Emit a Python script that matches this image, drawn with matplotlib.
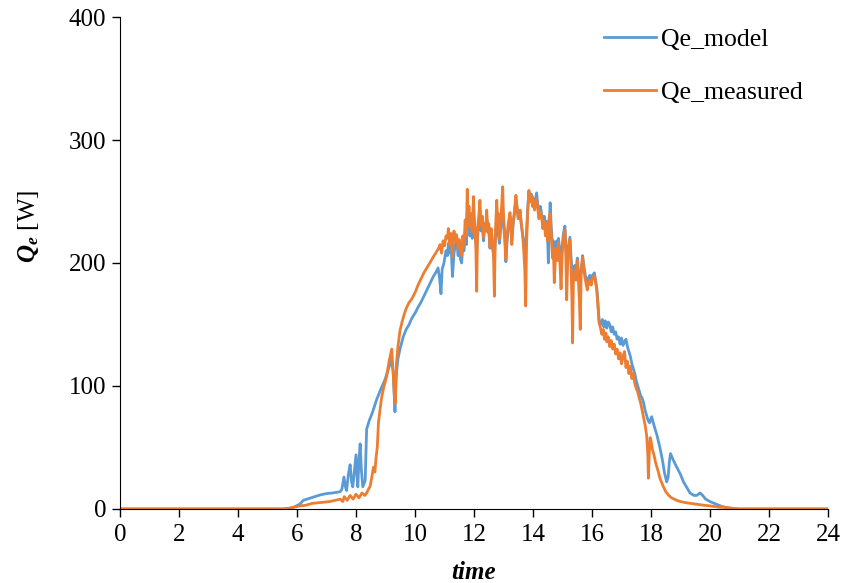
import matplotlib.pyplot as plt

plt.rcParams['font.family'] = ['Liberation Serif', 'DejaVu Serif']
plt.rcParams['mathtext.fontset'] = 'custom'
plt.rcParams['mathtext.rm'] = 'Liberation Serif'
plt.rcParams['mathtext.it'] = 'Liberation Serif:italic'
plt.rcParams['mathtext.bf'] = 'Liberation Serif:bold'
plt.rcParams['mathtext.bfit'] = 'Liberation Serif:italic:bold'

# Qe_model (blue) - hora del dia / potencia [W]
t_model = [0, 5.7, 5.9, 6.1, 6.21, 6.4, 6.6, 6.78, 7.0, 7.2, 7.46, 7.52, 7.59, 7.64, 7.68,
           7.74, 7.8, 7.85, 7.89, 7.95, 8.0, 8.03, 8.06, 8.1, 8.14, 8.18, 8.23, 8.31, 8.36,
           8.45, 8.55, 8.7, 8.85, 8.98, 9.1, 9.2, 9.26, 9.3, 9.32, 9.36, 9.42, 9.5, 9.6,
           9.7, 9.8, 9.87, 9.94, 10.02, 10.1, 10.2, 10.3, 10.4, 10.5, 10.62, 10.7, 10.78,
           10.83, 10.88, 10.92, 10.98, 11.05, 11.1, 11.13, 11.18, 11.22, 11.27, 11.32, 11.36,
           11.41, 11.46, 11.5, 11.54, 11.58, 11.62, 11.66, 11.7, 11.74, 11.77, 11.8, 11.83,
           11.86, 11.9, 11.94, 11.98, 12.02, 12.06, 12.09, 12.12, 12.16, 12.2, 12.24, 12.28,
           12.32, 12.36, 12.43, 12.5, 12.54, 12.58, 12.62, 12.66, 12.69, 12.72, 12.77, 12.8,
           12.86, 12.9, 12.94, 12.97, 13.0, 13.04, 13.08, 13.12, 13.16, 13.22, 13.28, 13.32,
           13.36, 13.42, 13.46, 13.5, 13.56, 13.6, 13.64, 13.68, 13.72, 13.75, 13.78, 13.82,
           13.86, 13.9, 13.94, 14.01, 14.05, 14.12, 14.16, 14.2, 14.25, 14.29, 14.33, 14.38,
           14.42, 14.46, 14.5, 14.52, 14.55, 14.58, 14.62, 14.66, 14.69, 14.72, 14.76, 14.8,
           14.83, 14.86, 14.9, 14.95, 14.99, 15.03, 15.08, 15.11, 15.14, 15.18, 15.22, 15.25,
           15.29, 15.34, 15.37, 15.42, 15.46, 15.5, 15.54, 15.6, 15.63, 15.68, 15.72, 15.76,
           15.8, 15.84, 15.88, 15.93, 15.97, 16.02, 16.08, 16.12, 16.16, 16.2, 16.24, 16.3,
           16.35, 16.4, 16.45, 16.5, 16.55, 16.6, 16.65, 16.7, 16.75, 16.8, 16.85, 16.9,
           16.95, 17.0, 17.05, 17.1, 17.15, 17.2, 17.25, 17.3, 17.35, 17.4, 17.45, 17.5,
           17.55, 17.6, 17.65, 17.7, 17.75, 17.8, 17.85, 17.9, 17.95, 18.02, 18.1, 18.2,
           18.3, 18.4, 18.45, 18.53, 18.58, 18.62, 18.66, 18.75, 18.85, 19.0, 19.1, 19.2,
           19.32, 19.45, 19.55, 19.66, 19.75, 19.85, 20.0, 20.2, 20.4, 20.6, 20.8, 24]
q_model = [0, 0, 1.5, 4, 7, 8.5, 10, 11.4, 12.5, 13, 14, 16, 26, 18, 15,
           28, 36, 22, 18, 32, 44, 28, 18, 40, 53, 32, 18, 23, 65,
           72, 78, 89, 98, 105, 114, 121, 112, 90, 79, 108, 122, 131, 140,
           146, 150, 154, 157, 160, 164, 168, 173, 178, 183, 189, 192, 196,
           188, 175, 195, 200, 210, 206, 216, 208, 214, 189, 208, 214,
           218, 206, 212, 203, 200, 214, 210, 222, 215, 240, 228, 236,
           222, 232, 220, 240, 226, 218, 210, 222, 230, 238, 226, 232,
           218, 228, 236, 226, 212, 222, 214, 208, 203, 218, 238, 228,
           216, 226, 238, 244, 232, 220, 201, 218, 228, 238, 218, 230,
           238, 252, 244, 236, 242, 232, 224, 218, 214, 210, 226, 244,
           258, 250, 256, 252, 246, 257, 248, 240, 246, 240, 232, 238,
           228, 234, 215, 200, 230, 249, 228, 214, 218, 204, 212, 218,
           208, 220, 212, 200, 214, 224, 230, 214, 200, 210, 216, 221,
           204, 190, 196, 198, 192, 204, 192, 184, 194, 206, 198, 192,
           186, 182, 188, 190, 186, 190, 192, 186, 180, 168, 153, 150,
           154, 148, 153, 147, 152, 150, 144, 148, 142, 144, 138, 140,
           134, 139, 133, 136, 138, 132, 128, 124, 118, 114, 110, 104,
           100, 96, 92, 90, 86, 80, 76, 72, 70, 75, 68, 60,
           50, 38, 30, 22, 26, 38, 45, 40, 35, 28, 22, 18,
           13, 11, 11, 13, 11, 8, 6, 4, 2, 1, 0, 0]

# Qe_measured (orange)
t_meas = [0, 5.5, 5.7, 5.9, 6.1, 6.3, 6.5, 6.7, 6.9, 7.1, 7.3, 7.46, 7.55, 7.6, 7.7,
          7.8, 7.9, 8.0, 8.1, 8.2, 8.3, 8.36, 8.42, 8.47, 8.53, 8.59, 8.64, 8.68, 8.72,
          8.76, 8.82, 8.87, 8.95, 9.04, 9.12, 9.21, 9.26, 9.3, 9.33, 9.37, 9.42, 9.49, 9.56,
          9.63, 9.7, 9.8, 9.87, 9.94, 10.02, 10.1, 10.2, 10.3, 10.4, 10.5, 10.62, 10.7,
          10.8, 10.85, 10.9, 10.95, 11.0, 11.05, 11.1, 11.13, 11.18, 11.22, 11.27, 11.32,
          11.36, 11.41, 11.46, 11.5, 11.54, 11.58, 11.62, 11.66, 11.7, 11.74, 11.77, 11.8,
          11.83, 11.86, 11.9, 11.94, 11.98, 12.02, 12.06, 12.09, 12.12, 12.16, 12.2, 12.24,
          12.28, 12.32, 12.36, 12.4, 12.43, 12.47, 12.5, 12.54, 12.58, 12.62, 12.66, 12.69,
          12.72, 12.77, 12.8, 12.83, 12.86, 12.9, 12.94, 12.97, 13.0, 13.04, 13.08, 13.12,
          13.16, 13.22, 13.25, 13.28, 13.32, 13.36, 13.42, 13.46, 13.5, 13.56, 13.6, 13.64,
          13.68, 13.72, 13.75, 13.78, 13.82, 13.86, 13.9, 13.94, 13.98, 14.01, 14.05, 14.09,
          14.12, 14.16, 14.2, 14.25, 14.29, 14.33, 14.38, 14.42, 14.46, 14.5, 14.54, 14.58,
          14.62, 14.66, 14.69, 14.72, 14.76, 14.8, 14.83, 14.86, 14.9, 14.95, 14.99, 15.03,
          15.08, 15.11, 15.14, 15.18, 15.22, 15.25, 15.29, 15.32, 15.34, 15.37, 15.42, 15.46,
          15.5, 15.54, 15.57, 15.6, 15.63, 15.68, 15.72, 15.76, 15.8, 15.84, 15.88, 15.93,
          15.97, 16.02, 16.08, 16.12, 16.16, 16.2, 16.24, 16.28, 16.33, 16.38, 16.42, 16.47,
          16.5, 16.55, 16.6, 16.65, 16.7, 16.75, 16.8, 16.85, 16.9, 16.95, 17.0, 17.05,
          17.1, 17.15, 17.2, 17.25, 17.3, 17.35, 17.4, 17.45, 17.5, 17.55, 17.6, 17.65,
          17.7, 17.75, 17.8, 17.85, 17.89, 17.91, 17.94, 17.97, 18.0, 18.05, 18.1, 18.15,
          18.2, 18.25, 18.3, 18.35, 18.42, 18.5, 18.6, 18.7, 18.87, 19.0, 19.2, 19.5,
          19.8, 20.0, 20.3, 20.6, 21.0, 24]
q_meas = [0, 0, 0.5, 1.5, 2.5, 3, 4.5, 5, 5.5, 6, 7, 8, 6, 10, 7,
          11, 8, 12, 9, 13, 11, 13, 16, 18, 25, 34, 30, 42, 50,
          70, 82, 91, 100, 108, 120, 130, 110, 92, 86, 118, 132, 145, 152,
          158, 163, 168, 170, 173, 177, 182, 187, 192, 196, 200, 205, 208,
          212, 215, 208, 218, 214, 222, 220, 228, 215, 224, 205, 226,
          218, 223, 212, 219, 210, 206, 222, 214, 235, 222, 260, 238,
          246, 229, 240, 225, 254, 232, 214, 177, 228, 238, 251, 230,
          238, 221, 232, 226, 243, 225, 232, 213, 228, 219, 205, 173,
          222, 251, 232, 240, 219, 232, 248, 262, 238, 225, 203, 222,
          232, 241, 228, 215, 232, 240, 255, 245, 236, 243, 232, 225,
          212, 195, 165, 215, 242, 259, 250, 255, 246, 251, 243, 250,
          252, 244, 236, 242, 238, 228, 234, 222, 232, 218, 236, 240,
          222, 204, 212, 184, 205, 212, 202, 217, 206, 179, 208, 220,
          227, 208, 170, 205, 212, 219, 196, 168, 135, 188, 194, 186,
          202, 185, 170, 146, 190, 205, 196, 188, 183, 178, 184, 186,
          182, 188, 190, 184, 178, 165, 151, 148, 142, 146, 138, 143,
          136, 140, 132, 137, 130, 134, 126, 130, 122, 127, 118, 124,
          128, 115, 120, 110, 116, 106, 110, 102, 98, 95, 90, 86,
          80, 74, 68, 60, 45, 25, 45, 58, 55, 48, 44, 38,
          34, 30, 25, 22, 18, 14, 11, 9, 7, 6, 5, 4,
          3, 2.5, 1.5, 1, 0, 0]

fig = plt.figure(figsize=(8.44, 5.83), dpi=100)
ax = fig.add_axes([0.1422, 0.127, 0.8389, 0.8438])

ax.plot(t_model, q_model, color='#5B9BD5', lw=2, label='Qe_model')
ax.plot(t_meas, q_meas, color='#ED7D31', lw=2, label='Qe_measured')

ax.set_xlim(0, 24)
ax.set_ylim(0, 400)
ax.set_xticks(range(0, 25, 2))
ax.set_yticks(range(0, 401, 100))
ax.spines['top'].set_visible(False)
ax.spines['right'].set_visible(False)
ax.tick_params(direction='out', length=6, width=1, labelsize=18, pad=4)
ax.tick_params(axis='x', pad=5)

ax.set_xlabel('time', fontsize=18, fontweight='bold', fontstyle='italic')
ax.xaxis.set_label_coords(0.5, -0.105)
ax.set_ylabel(r'$\mathbfit{Q}_{\mathbfit{e}}$ [W]', fontsize=18)
ax.yaxis.set_label_coords(-0.112, 0.575)

leg = fig.legend(loc='upper left', bbox_to_anchor=(0.716, 0.952), frameon=False,
                 fontsize=18.5, handlelength=2.0, handletextpad=0.2, labelspacing=1.15,
                 borderpad=0, borderaxespad=0)

fig.savefig('out.png', dpi=100)
